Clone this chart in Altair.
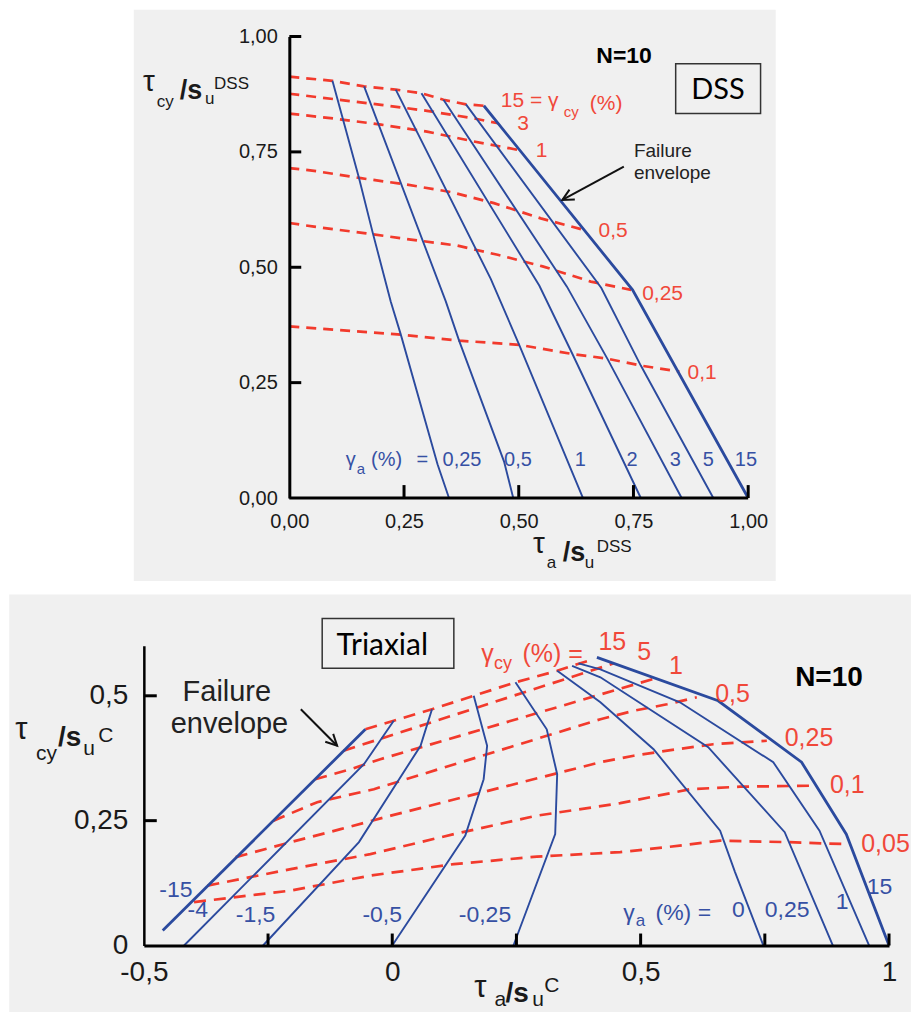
import altair as alt
import pandas as pd

# ---------------- colours / fonts ----------------
RED = "#f23a2c"
RED_TXT = "#f0483a"
BLUE = "#2b4a9e"
BLUE_TXT = "#3650a4"
INK = "#1a1a1a"
GRAY_BG = "#f0f0f0"
SANS = "Liberation Sans"
BOXFONT = "Lato"

# ================= DSS panel (top) =================
DSS_AXIS_VALUES = [0.0, 0.25, 0.5, 0.75, 1.0]
DSS_X_TICKS = [0.25, 0.5, 0.75, 1.0]
DSS_Y_TICKS = [0.25, 0.5, 0.75, 1.0]
DSS_X_MIN = -0.317      # plot area widened to the left (shared left edge with the lower panel)

# gamma_a (%) contours (blue)
DSS_GA_NAMES = ["0,25", "0,5", "1", "2", "3", "5", "15"]
DSS_GA_025_X = [0.094, 0.152, 0.182, 0.221, 0.243, 0.323, 0.348]
DSS_GA_025_Y = [0.904, 0.693, 0.574, 0.426, 0.354, 0.073, 0.0]
DSS_GA_05_X = [0.163, 0.341, 0.370, 0.468, 0.488]
DSS_GA_05_Y = [0.892, 0.426, 0.341, 0.079, 0.0]
DSS_GA_1_X = [0.232, 0.439, 0.501, 0.640]
DSS_GA_1_Y = [0.885, 0.475, 0.332, 0.0]
DSS_GA_2_X = [0.288, 0.545, 0.617, 0.766]
DSS_GA_2_Y = [0.877, 0.460, 0.312, 0.0]
DSS_GA_3_X = [0.336, 0.605, 0.693, 0.855]
DSS_GA_3_Y = [0.863, 0.458, 0.302, 0.0]
DSS_GA_5_X = [0.385, 0.680, 0.766, 0.924]
DSS_GA_5_Y = [0.853, 0.455, 0.287, 0.0]
DSS_GA_15_X = [0.424, 0.748, 1.0]
DSS_GA_15_Y = [0.850, 0.451, 0.0]

# gamma_cy (%) contours (red dashed)
DSS_CY_NAMES = ["15", "3", "1", "0,5", "0,25", "0,1"]
DSS_CY_15_X = [0.0, 0.094, 0.163, 0.232, 0.288, 0.336, 0.385, 0.424]
DSS_CY_15_Y = [0.913, 0.904, 0.892, 0.885, 0.877, 0.863, 0.853, 0.850]
DSS_CY_3_X = [0.0, 0.1, 0.2, 0.3, 0.4, 0.455]
DSS_CY_3_Y = [0.876, 0.864, 0.852, 0.839, 0.823, 0.812]
DSS_CY_1_X = [0.0, 0.1, 0.2, 0.3, 0.4, 0.5]
DSS_CY_1_Y = [0.833, 0.822, 0.809, 0.794, 0.773, 0.754]
DSS_CY_05_X = [0.0, 0.054, 0.156, 0.257, 0.352, 0.446, 0.548, 0.642]
DSS_CY_05_Y = [0.715, 0.709, 0.693, 0.679, 0.663, 0.639, 0.606, 0.581]
DSS_CY_025_X = [0.0, 0.054, 0.163, 0.265, 0.366, 0.454, 0.552, 0.657, 0.745]
DSS_CY_025_Y = [0.596, 0.588, 0.574, 0.560, 0.547, 0.527, 0.502, 0.469, 0.451]
DSS_CY_01_X = [0.0, 0.243, 0.370, 0.501, 0.617, 0.693, 0.766, 0.850]
DSS_CY_01_Y = [0.372, 0.354, 0.341, 0.332, 0.312, 0.302, 0.287, 0.274]

# annotations (data coordinates)
DSS_RED_TEXT = ["15 =", "γ", "(%)", "3", "1", "0,5", "0,25", "0,1"]
DSS_RED_X = [0.461, 0.564, 0.655, 0.497, 0.537, 0.674, 0.769, 0.868]
DSS_RED_Y = [0.848, 0.848, 0.840, 0.798, 0.740, 0.565, 0.430, 0.257]
DSS_RED_SUB_TEXT = ["cy"]
DSS_RED_SUB_X = [0.598]
DSS_RED_SUB_Y = [0.826]
DSS_BLUE_TEXT = ["γ", "(%)", "=", "0,25", "0,5", "1", "2", "3", "5", "15"]
DSS_BLUE_X = [0.123, 0.178, 0.277, 0.334, 0.468, 0.622, 0.735, 0.829, 0.901, 0.971]
DSS_BLUE_Y = [0.069, 0.069, 0.069, 0.069, 0.069, 0.069, 0.069, 0.069, 0.069, 0.069]
DSS_BLUE_SUB_TEXT = ["a"]
DSS_BLUE_SUB_X = [0.147]
DSS_BLUE_SUB_Y = [0.053]
DSS_TITLE_TEXT = ["τ", "τ"]
DSS_TITLE_X = [-0.319, 0.531]
DSS_TITLE_Y = [0.881, -0.120]
DSS_TITLE_BOLD_TEXT = ["/s", "/s"]
DSS_TITLE_BOLD_X = [-0.239, 0.596]
DSS_TITLE_BOLD_Y = [0.864, -0.137]
DSS_TITLE_SMALL_TEXT = ["cy", "u", "DSS", "a", "u", "DSS"]
DSS_TITLE_SMALL_X = [-0.289, -0.184, -0.164, 0.561, 0.644, 0.670]
DSS_TITLE_SMALL_Y = [0.848, 0.853, 0.887, -0.152, -0.152, -0.118]
DSS_NOTE_TEXT = ["Failure", "envelope"]
DSS_NOTE_X = [0.751, 0.751]
DSS_NOTE_Y = [0.738, 0.692]
DSS_BOLD_TEXT = ["N=10"]
DSS_BOLD_X = [0.669]
DSS_BOLD_Y = [0.942]
DSS_BOX_TEXT = ["DSS"]
DSS_BOX_TX = [0.934]
DSS_BOX_TY = [0.865]
DSS_BOX = {"x": [0.842], "x2": [1.027], "y": [0.833], "y2": [0.941]}
DSS_ARROW = {"x": [0.729], "y": [0.718], "x2": [0.595], "y2": [0.646]}
DSS_BG = {"x": [-0.339], "x2": [1.060], "y": [-0.180], "y2": [1.058]}
DSS_XLINE = {"x": [0.0], "x2": [1.0], "y": [0.0], "y2": [0.0]}

# ================= Triaxial panel (bottom) =================
TRX_X_AXIS_VALUES = [-0.5, 0.0, 0.5, 1.0]
TRX_Y_AXIS_VALUES = [0.0, 0.25, 0.5]
TRX_X_TICKS = [-0.25, 0.0, 0.25, 0.5, 0.75, 1.0]
TRX_Y_TICKS = [0.25, 0.5]

TRX_GA_NAMES = ["-15", "-4", "-1,5", "-0,5", "-0,25", "0", "0,25", "1", "15"]
TRX_GA_M15_X = [-0.462, -0.054]
TRX_GA_M15_Y = [0.030, 0.433]
TRX_GA_M4_X = [-0.419, -0.057, 0.003]
TRX_GA_M4_Y = [0.0, 0.363, 0.450]
TRX_GA_M1_5_X = [-0.260, -0.067, 0.057, 0.080]
TRX_GA_M1_5_Y = [0.0, 0.207, 0.400, 0.473]
TRX_GA_M0_5_X = [0.0, 0.147, 0.184, 0.191, 0.164]
TRX_GA_M0_5_Y = [0.0, 0.220, 0.333, 0.400, 0.500]
TRX_GA_M0_25_X = [0.244, 0.328, 0.332, 0.311, 0.248]
TRX_GA_M0_25_Y = [0.0, 0.223, 0.343, 0.433, 0.527]
TRX_GA_0_X = [0.332, 0.419, 0.526, 0.660, 0.690, 0.747]
TRX_GA_0_Y = [0.550, 0.487, 0.393, 0.230, 0.147, 0.0]
TRX_GA_0_25_X = [0.362, 0.419, 0.636, 0.790, 0.887]
TRX_GA_0_25_Y = [0.560, 0.537, 0.397, 0.227, 0.0]
TRX_GA_1_X = [0.375, 0.419, 0.579, 0.767, 0.860, 0.960]
TRX_GA_1_Y = [0.565, 0.553, 0.487, 0.367, 0.230, 0.0]
TRX_GA_15_X = [0.412, 0.656, 0.824, 0.914, 1.0]
TRX_GA_15_Y = [0.577, 0.490, 0.367, 0.223, 0.0]

TRX_CY_NAMES = ["15", "5", "1", "0,5", "0,25", "0,1", "0,05"]
TRX_CY_15_X = [-0.054, 0.003, 0.080, 0.164, 0.248, 0.332, 0.362, 0.395]
TRX_CY_15_Y = [0.433, 0.450, 0.473, 0.500, 0.527, 0.550, 0.560, 0.570]
TRX_CY_5_X = [-0.098, 0.446]
TRX_CY_5_Y = [0.390, 0.565]
TRX_CY_1_X = [-0.155, -0.084, -0.024, 0.530]
TRX_CY_1_Y = [0.333, 0.353, 0.373, 0.535]
TRX_CY_05_X = [-0.239, -0.151, -0.037, 0.419, 0.486, 0.553, 0.613]
TRX_CY_05_Y = [0.250, 0.287, 0.313, 0.453, 0.470, 0.483, 0.497]
TRX_CY_025_X = [-0.315, -0.204, -0.104, -0.003, 0.419, 0.486, 0.573, 0.646, 0.754]
TRX_CY_025_Y = [0.177, 0.207, 0.233, 0.260, 0.367, 0.380, 0.393, 0.403, 0.410]
TRX_CY_01_X = [-0.372, -0.204, -0.044, 0.124, 0.291, 0.459, 0.600, 0.700, 0.844]
TRX_CY_01_Y = [0.120, 0.153, 0.183, 0.223, 0.260, 0.285, 0.313, 0.318, 0.320]
TRX_CY_005_X = [-0.399, -0.204, -0.044, 0.124, 0.291, 0.459, 0.553, 0.660, 0.794, 0.914]
TRX_CY_005_Y = [0.087, 0.110, 0.140, 0.163, 0.178, 0.187, 0.197, 0.210, 0.207, 0.203]

TRX_RED_TEXT = ["γ", "(%) =", "15", "5", "1", "0,5", "0,25", "0,1", "0,05"]
TRX_RED_X = [0.179, 0.262, 0.415, 0.493, 0.557, 0.650, 0.790, 0.881, 0.944]
TRX_RED_Y = [0.567, 0.567, 0.591, 0.571, 0.543, 0.487, 0.400, 0.305, 0.187]
TRX_RED_SUB_TEXT = ["cy"]
TRX_RED_SUB_X = [0.205]
TRX_RED_SUB_Y = [0.553]
TRX_BLUE_TEXT = ["-15", "-4", "-1,5", "-0,5", "-0,25", "γ", "(%) =", "0", "0,25", "1", "15"]
TRX_BLUE_X = [-0.469, -0.412, -0.315, -0.060, 0.134, 0.465, 0.530, 0.684, 0.750, 0.893, 0.955]
TRX_BLUE_Y = [0.097, 0.057, 0.047, 0.047, 0.047, 0.051, 0.051, 0.057, 0.057, 0.073, 0.103]
TRX_BLUE_SUB_TEXT = ["a"]
TRX_BLUE_SUB_X = [0.490]
TRX_BLUE_SUB_Y = [0.039]
TRX_TITLE_TEXT = ["τ", "τ"]
TRX_TITLE_X = [-0.759, 0.165]
TRX_TITLE_Y = [0.413, -0.103]
TRX_TITLE_BOLD_TEXT = ["/s", "/s"]
TRX_TITLE_BOLD_X = [-0.673, 0.228]
TRX_TITLE_BOLD_Y = [0.399, -0.113]
TRX_TITLE_SMALL_TEXT = ["cy", "u", "C", "a", "u", "C"]
TRX_TITLE_SMALL_X = [-0.717, -0.622, -0.592, 0.206, 0.282, 0.306]
TRX_TITLE_SMALL_Y = [0.371, 0.381, 0.407, -0.121, -0.121, -0.093]
TRX_NOTE_TEXT = ["Failure", "envelope"]
TRX_NOTE_X = [-0.422, -0.446]
TRX_NOTE_Y = [0.489, 0.425]
TRX_BOLD_TEXT = ["N=10"]
TRX_BOLD_X = [0.811]
TRX_BOLD_Y = [0.520]
TRX_BOX_TEXT = ["Triaxial"]
TRX_BOX_TX = [-0.020]
TRX_BOX_TY = [0.581]
TRX_BOX = {"x": [-0.141], "x2": [0.124], "y": [0.555], "y2": [0.655]}
TRX_ARROW = {"x": [-0.184], "y": [0.473], "x2": [-0.111], "y2": [0.400]}
TRX_BG = {"x": [-0.771], "x2": [1.044], "y": [-0.133], "y2": [0.703]}


# ---------------- helpers ----------------
def curves_df(names, xs_list, ys_list, thick=()):
    rows = []
    for name, xs, ys in zip(names, xs_list, ys_list):
        for k, (x, y) in enumerate(zip(xs, ys)):
            rows.append({"curve": name, "x": x, "y": y, "k": k,
                         "w": 2.8 if name in thick else 1.9})
    return pd.DataFrame(rows)


def make_panel(xscale, yscale, xaxis, yaxis, p):
    def X(f):
        return alt.X(f, type="quantitative", scale=xscale, axis=xaxis)

    def Y(f):
        return alt.Y(f, type="quantitative", scale=yscale, axis=yaxis)

    layers = []
    layers.append(alt.Chart(pd.DataFrame(p["bg"])).mark_rect(fill=GRAY_BG).encode(
        x=X("x"), x2="x2", y=Y("y"), y2="y2"))
    layers.append(alt.Chart(p["red"]).mark_line(
        color=RED, strokeWidth=2.7, strokeDash=p["dash"]).encode(
        x=X("x"), y=Y("y"), detail="curve:N", order="k:Q"))
    layers.append(alt.Chart(p["blue"]).mark_line(color=BLUE).encode(
        x=X("x"), y=Y("y"), detail="curve:N", order="k:Q",
        strokeWidth=alt.StrokeWidth("w:Q", scale=None)))
    if p.get("xline") is not None:
        layers.append(alt.Chart(pd.DataFrame(p["xline"])).mark_rule(
            color="black", strokeWidth=3).encode(x=X("x"), x2="x2", y=Y("y"), y2="y2"))
    layers.append(alt.Chart(pd.DataFrame({"t": p["xticks"]})).mark_rule(
        color="black", strokeWidth=3).encode(
        x=X("t"), y=alt.datum(p["yorigin"]), y2=alt.datum(p["yorigin"] + p["xticklen"])))
    layers.append(alt.Chart(pd.DataFrame({"t": p["yticks"]})).mark_rule(
        color="black", strokeWidth=3).encode(
        y=Y("t"), x=alt.datum(p["xorigin"]), x2=alt.datum(p["xorigin"] + p["yticklen"])))
    layers.append(alt.Chart(pd.DataFrame(p["box"])).mark_rect(
        fill="transparent", stroke="#333333", strokeWidth=1.5).encode(
        x=X("x"), x2="x2", y=Y("y"), y2="y2"))
    layers.append(alt.Chart(pd.DataFrame(p["arrow"])).mark_rule(
        color="#111111", strokeWidth=2).encode(x=X("x"), y=Y("y"), x2="x2", y2="y2"))
    head = pd.DataFrame({"x": p["arrow"]["x2"], "y": p["arrow"]["y2"]})
    layers.append(alt.Chart(head).mark_point(
        shape="M -1 -0.5 L 0 0 L -1 0.5", filled=False, size=500, angle=p["arrow_angle"],
        strokeWidth=2, color="#111111", opacity=1).encode(x=X("x"), y=Y("y")))
    for (texts, xs, ys, size, color, font, weight, align) in p["texts"]:
        df = pd.DataFrame({"t": texts, "x": xs, "y": ys})
        layers.append(alt.Chart(df).mark_text(
            align=align, baseline="alphabetic", font=font, fontSize=size,
            fontWeight=weight, color=color).encode(x=X("x"), y=Y("y"), text="t:N"))
    return alt.layer(*layers)


def axis(values, expr, size, pad, width, show_domain=True, offset=0.0):
    return alt.Axis(values=values, labelExpr=expr, title=None, grid=False,
                    ticks=False, tickSize=0, domain=show_domain, domainColor="black",
                    domainWidth=width, labelFont=SANS, labelFontSize=size, labelColor=INK,
                    labelPadding=pad, labelFlush=False, labelOverlap=False, zindex=2,
                    offset=offset)


# ---------------- DSS panel ----------------
dss_blue = curves_df(
    DSS_GA_NAMES,
    [DSS_GA_025_X, DSS_GA_05_X, DSS_GA_1_X, DSS_GA_2_X, DSS_GA_3_X, DSS_GA_5_X, DSS_GA_15_X],
    [DSS_GA_025_Y, DSS_GA_05_Y, DSS_GA_1_Y, DSS_GA_2_Y, DSS_GA_3_Y, DSS_GA_5_Y, DSS_GA_15_Y],
    thick=("15",))
dss_red = curves_df(
    DSS_CY_NAMES,
    [DSS_CY_15_X, DSS_CY_3_X, DSS_CY_1_X, DSS_CY_05_X, DSS_CY_025_X, DSS_CY_01_X],
    [DSS_CY_15_Y, DSS_CY_3_Y, DSS_CY_1_Y, DSS_CY_05_Y, DSS_CY_025_Y, DSS_CY_01_Y])

dss_label_expr = "replace(format(datum.value, '.2f'), '.', ',')"
dss_texts = [
    (DSS_RED_TEXT, DSS_RED_X, DSS_RED_Y, 21, RED_TXT, SANS, "normal", "left"),
    (DSS_RED_SUB_TEXT, DSS_RED_SUB_X, DSS_RED_SUB_Y, 15, RED_TXT, SANS, "normal", "left"),
    (DSS_BLUE_TEXT, DSS_BLUE_X, DSS_BLUE_Y, 20, BLUE_TXT, SANS, "normal", "left"),
    (DSS_BLUE_SUB_TEXT, DSS_BLUE_SUB_X, DSS_BLUE_SUB_Y, 15, BLUE_TXT, SANS, "normal", "left"),
    (DSS_TITLE_TEXT, DSS_TITLE_X, DSS_TITLE_Y, 30, INK, SANS, "normal", "left"),
    (DSS_TITLE_BOLD_TEXT, DSS_TITLE_BOLD_X, DSS_TITLE_BOLD_Y, 27, INK, SANS, "bold", "left"),
    (DSS_TITLE_SMALL_TEXT, DSS_TITLE_SMALL_X, DSS_TITLE_SMALL_Y, 17, INK, SANS, "normal", "left"),
    (DSS_NOTE_TEXT, DSS_NOTE_X, DSS_NOTE_Y, 19, "#222222", SANS, "normal", "left"),
    (DSS_BOLD_TEXT, DSS_BOLD_X, DSS_BOLD_Y, 23, "#000000", SANS, "bold", "left"),
    (DSS_BOX_TEXT, DSS_BOX_TX, DSS_BOX_TY, 29, "#000000", BOXFONT, "normal", "center"),
]

DSS_UNIT_PX = 459.0
dss_width = round(DSS_UNIT_PX * (1.0 - DSS_X_MIN))
dss_yaxis_offset = -(0.0 - DSS_X_MIN) / (1.0 - DSS_X_MIN) * dss_width

top = make_panel(
    alt.Scale(domain=[DSS_X_MIN, 1], nice=False, zero=False),
    alt.Scale(domain=[0, 1], nice=False, zero=False),
    axis(DSS_AXIS_VALUES, dss_label_expr, 20, 14, 3, show_domain=False),
    axis(DSS_AXIS_VALUES, dss_label_expr, 20, 12, 3, offset=dss_yaxis_offset),
    {"bg": DSS_BG, "xline": DSS_XLINE, "red": dss_red, "blue": dss_blue, "dash": [10, 7],
     "xticks": DSS_X_TICKS, "yticks": DSS_Y_TICKS, "xorigin": 0.0, "yorigin": 0.0,
     "xticklen": 0.028, "yticklen": 0.026, "box": DSS_BOX, "arrow": DSS_ARROW,
     "arrow_angle": 151.6, "texts": dss_texts},
).properties(width=dss_width, height=462)

# ---------------- Triaxial panel ----------------
trx_blue = curves_df(
    TRX_GA_NAMES,
    [TRX_GA_M15_X, TRX_GA_M4_X, TRX_GA_M1_5_X, TRX_GA_M0_5_X, TRX_GA_M0_25_X,
     TRX_GA_0_X, TRX_GA_0_25_X, TRX_GA_1_X, TRX_GA_15_X],
    [TRX_GA_M15_Y, TRX_GA_M4_Y, TRX_GA_M1_5_Y, TRX_GA_M0_5_Y, TRX_GA_M0_25_Y,
     TRX_GA_0_Y, TRX_GA_0_25_Y, TRX_GA_1_Y, TRX_GA_15_Y],
    thick=("-15", "15"))
trx_red = curves_df(
    TRX_CY_NAMES,
    [TRX_CY_15_X, TRX_CY_5_X, TRX_CY_1_X, TRX_CY_05_X, TRX_CY_025_X, TRX_CY_01_X, TRX_CY_005_X],
    [TRX_CY_15_Y, TRX_CY_5_Y, TRX_CY_1_Y, TRX_CY_05_Y, TRX_CY_025_Y, TRX_CY_01_Y, TRX_CY_005_Y])

trx_label_expr = "replace(replace(format(datum.value, '~g'), '.', ','), '\u2212', '-')"
trx_texts = [
    (TRX_RED_TEXT, TRX_RED_X, TRX_RED_Y, 25, RED_TXT, SANS, "normal", "left"),
    (TRX_RED_SUB_TEXT, TRX_RED_SUB_X, TRX_RED_SUB_Y, 18, RED_TXT, SANS, "normal", "left"),
    (TRX_BLUE_TEXT, TRX_BLUE_X, TRX_BLUE_Y, 23, BLUE_TXT, SANS, "normal", "left"),
    (TRX_BLUE_SUB_TEXT, TRX_BLUE_SUB_X, TRX_BLUE_SUB_Y, 17, BLUE_TXT, SANS, "normal", "left"),
    (TRX_TITLE_TEXT, TRX_TITLE_X, TRX_TITLE_Y, 31, INK, SANS, "normal", "left"),
    (TRX_TITLE_BOLD_TEXT, TRX_TITLE_BOLD_X, TRX_TITLE_BOLD_Y, 28, INK, SANS, "bold", "left"),
    (TRX_TITLE_SMALL_TEXT, TRX_TITLE_SMALL_X, TRX_TITLE_SMALL_Y, 21, INK, SANS, "normal", "left"),
    (TRX_NOTE_TEXT, TRX_NOTE_X, TRX_NOTE_Y, 29, "#222222", SANS, "normal", "left"),
    (TRX_BOLD_TEXT, TRX_BOLD_X, TRX_BOLD_Y, 28, "#000000", SANS, "bold", "left"),
    (TRX_BOX_TEXT, TRX_BOX_TX, TRX_BOX_TY, 30, "#000000", BOXFONT, "normal", "center"),
]

bottom = make_panel(
    alt.Scale(domain=[-0.5, 1], nice=False, zero=False),
    alt.Scale(domain=[0, 0.6], nice=False, zero=False),
    axis(TRX_X_AXIS_VALUES, trx_label_expr, 28, 13, 3),
    axis(TRX_Y_AXIS_VALUES, trx_label_expr, 28, 16, 2.5),
    {"bg": TRX_BG, "xline": None, "red": trx_red, "blue": trx_blue, "dash": [12, 8],
     "xticks": TRX_X_TICKS, "yticks": TRX_Y_TICKS, "xorigin": -0.5, "yorigin": 0.0,
     "xticklen": 0.024, "yticklen": 0.026, "box": TRX_BOX, "arrow": TRX_ARROW,
     "arrow_angle": 45.2, "texts": trx_texts},
).properties(width=746, height=300)

chart = alt.vconcat(top, bottom, spacing=12).properties(
    padding=0, background="#ffffff"
).configure_view(stroke="transparent")

chart.save("out.html", embed_options={"renderer": "svg", "actions": False})
